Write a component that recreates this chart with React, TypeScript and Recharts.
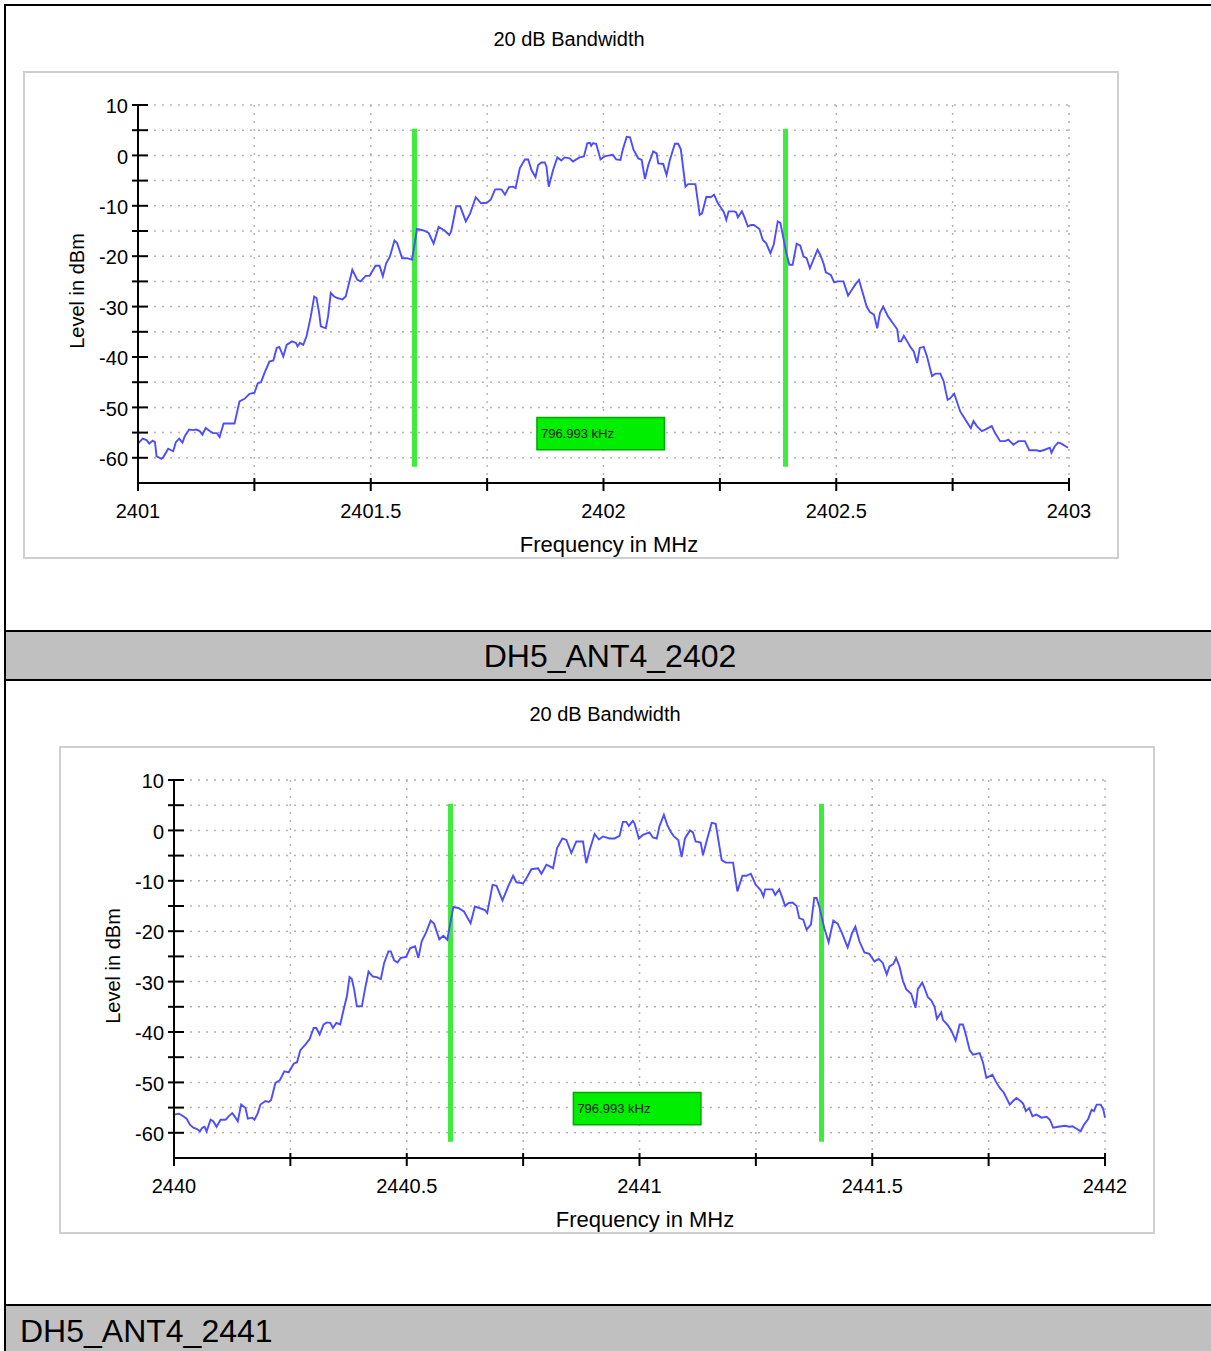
import { LineChart, Line, XAxis, YAxis, CartesianGrid, ReferenceLine, ReferenceArea } from 'recharts'

const trace2402: [number, number][] = [
  [2401.0, -57.2], [2401.01, -56.2], [2401.0185, -56.5], [2401.0242, -57.2], [2401.0314, -56.6],
  [2401.0364, -56.9], [2401.0399, -59.7], [2401.0506, -60.2], [2401.0542, -59.9], [2401.0649, -58.2],
  [2401.0756, -58.7], [2401.0813, -56.9], [2401.0884, -56.2], [2401.0955, -57.0], [2401.1005, -55.7],
  [2401.1098, -54.4], [2401.1183, -54.5], [2401.1254, -54.4], [2401.1326, -54.7], [2401.1383, -55.4],
  [2401.1454, -54.1], [2401.154, -54.7], [2401.1611, -55.1], [2401.1696, -55.1], [2401.1753, -55.9],
  [2401.1839, -53.2], [2401.1932, -53.2], [2401.2074, -53.2], [2401.2181, -48.8], [2401.2288, -48.3],
  [2401.2395, -47.3], [2401.2502, -47.1], [2401.2573, -45.2], [2401.2644, -45.0], [2401.2716, -43.2],
  [2401.2823, -40.9], [2401.2908, -40.7], [2401.2979, -38.2], [2401.3036, -38.0], [2401.3122, -39.9],
  [2401.3193, -37.6], [2401.3307, -36.9], [2401.3393, -37.2], [2401.3428, -37.9], [2401.3478, -37.2],
  [2401.355, -37.6], [2401.3621, -35.9], [2401.3713, -31.9], [2401.3785, -28.0], [2401.3835, -28.3],
  [2401.3892, -31.3], [2401.3927, -33.9], [2401.4034, -34.3], [2401.4084, -31.9], [2401.4141, -27.3],
  [2401.4212, -28.0], [2401.4284, -28.3], [2401.4391, -28.6], [2401.4462, -28.0], [2401.4604, -22.7],
  [2401.4711, -24.7], [2401.4783, -25.0], [2401.489, -23.9], [2401.4975, -23.9], [2401.5103, -21.9],
  [2401.5189, -21.9], [2401.526, -24.0], [2401.5331, -21.4], [2401.541, -20.1], [2401.551, -16.9],
  [2401.5567, -17.4], [2401.5674, -20.4], [2401.5781, -20.4], [2401.5887, -20.7], [2401.5994, -14.6],
  [2401.6137, -14.9], [2401.6244, -15.4], [2401.6351, -17.5], [2401.6458, -14.2], [2401.6586, -14.9],
  [2401.6686, -15.8], [2401.6728, -15.1], [2401.6835, -10.1], [2401.6921, -10.1], [2401.7042, -13.1],
  [2401.7135, -11.5], [2401.7256, -8.3], [2401.737, -9.5], [2401.7491, -9.4], [2401.7577, -8.8],
  [2401.7669, -6.8], [2401.7741, -6.7], [2401.7812, -6.8], [2401.7883, -7.8], [2401.7969, -6.3],
  [2401.8061, -6.2], [2401.8111, -6.5], [2401.8204, -2.5], [2401.8311, -0.8], [2401.8382, -0.8],
  [2401.8453, -2.9], [2401.8539, -4.3], [2401.8596, -1.9], [2401.8667, -1.4], [2401.8738, -1.4],
  [2401.8774, -2.2], [2401.8824, -6.2], [2401.8917, -2.9], [2401.9009, -0.4], [2401.9095, -1.0],
  [2401.9166, -0.4], [2401.9273, -0.6], [2401.9344, -1.2], [2401.9415, -0.8], [2401.9487, -0.4],
  [2401.9579, -0.2], [2401.9651, 2.4], [2401.9708, 2.5], [2401.9736, 1.9], [2401.9772, 2.4],
  [2401.9843, 2.3], [2401.9936, -0.8], [2402.0021, -0.2], [2402.0128, 0.0], [2402.02, 0.1],
  [2402.0271, -0.8], [2402.0364, -0.9], [2402.0413, 1.1], [2402.0499, 3.7], [2402.057, 3.6],
  [2402.0642, 1.2], [2402.0749, -0.6], [2402.082, -0.9], [2402.0891, -4.7], [2402.0962, -1.9],
  [2402.1069, 0.8], [2402.1141, 0.4], [2402.1176, -1.6], [2402.1283, -1.7], [2402.1354, -3.9],
  [2402.1426, -0.9], [2402.1533, 2.3], [2402.1604, 2.3], [2402.1661, 1.2], [2402.1761, -6.2],
  [2402.1818, -5.7], [2402.1975, -5.7], [2402.2067, -11.8], [2402.2117, -11.5], [2402.221, -8.2],
  [2402.2303, -8.3], [2402.2374, -7.8], [2402.2459, -9.5], [2402.2516, -10.3], [2402.2588, -11.3],
  [2402.2638, -12.8], [2402.2688, -11.1], [2402.2816, -11.1], [2402.2851, -11.3], [2402.2887, -12.3],
  [2402.2973, -11.1], [2402.303, -12.3], [2402.3101, -14.1], [2402.3172, -13.8], [2402.3229, -13.8],
  [2402.335, -14.6], [2402.3422, -16.8], [2402.3493, -17.4], [2402.3586, -19.4], [2402.3657, -17.7],
  [2402.3743, -13.1], [2402.38, -13.4], [2402.3921, -19.1], [2402.3992, -21.7], [2402.4063, -21.7],
  [2402.4149, -17.5], [2402.4227, -17.9], [2402.4299, -20.1], [2402.4363, -20.4], [2402.4434, -22.4],
  [2402.4598, -18.7], [2402.4655, -19.7], [2402.4726, -21.4], [2402.4776, -23.2], [2402.4883, -23.7],
  [2402.4954, -25.2], [2402.5026, -25.0], [2402.5154, -25.0], [2402.5254, -27.8], [2402.5311, -27.0],
  [2402.5418, -25.5], [2402.5489, -24.7], [2402.556, -27.0], [2402.5653, -30.0], [2402.5724, -31.1],
  [2402.581, -31.6], [2402.5881, -34.3], [2402.5938, -31.3], [2402.6009, -30.0], [2402.6109, -31.9],
  [2402.6202, -33.1], [2402.6309, -34.5], [2402.6345, -36.9], [2402.6394, -36.9], [2402.6451, -35.8],
  [2402.6523, -36.9], [2402.6608, -38.2], [2402.6665, -38.9], [2402.6737, -41.2], [2402.6794, -38.2],
  [2402.6879, -38.0], [2402.695, -39.9], [2402.7057, -43.8], [2402.7129, -43.3], [2402.7236, -43.3],
  [2402.7307, -44.8], [2402.7392, -48.5], [2402.7435, -48.3], [2402.7535, -47.3], [2402.7663, -50.8],
  [2402.7792, -52.7], [2402.7891, -54.1], [2402.7948, -52.7], [2402.802, -53.7], [2402.8127, -54.7],
  [2402.8198, -54.4], [2402.834, -53.7], [2402.8412, -55.1], [2402.8519, -56.7], [2402.8626, -56.7],
  [2402.8697, -56.4], [2402.8804, -57.4], [2402.8911, -56.7], [2402.9053, -56.7], [2402.9146, -58.5],
  [2402.9303, -58.5], [2402.9374, -58.7], [2402.9481, -58.4], [2402.9588, -58.0], [2402.9624, -59.0],
  [2402.9695, -57.7], [2402.9766, -57.0], [2402.9837, -57.2], [2402.9909, -57.6], [2402.998, -58.0],
]

const trace2441: [number, number][] = [
  [2440.0, -56.4], [2440.0107, -56.2], [2440.02, -56.7], [2440.0271, -57.2], [2440.0343, -58.4],
  [2440.0414, -59.0], [2440.0486, -59.2], [2440.0557, -59.7], [2440.0607, -59.0], [2440.0657, -58.8],
  [2440.07, -59.7], [2440.0786, -57.4], [2440.0843, -57.7], [2440.0914, -58.8], [2440.1, -57.4],
  [2440.1107, -57.4], [2440.1179, -56.7], [2440.125, -56.1], [2440.13, -56.7], [2440.1371, -57.7],
  [2440.1443, -54.4], [2440.1536, -55.1], [2440.1586, -57.2], [2440.1679, -57.0], [2440.1729, -57.4],
  [2440.18, -56.1], [2440.1857, -54.4], [2440.1964, -53.7], [2440.2036, -53.9], [2440.2086, -53.5],
  [2440.2179, -50.1], [2440.2271, -49.6], [2440.2371, -47.8], [2440.2464, -48.0], [2440.2571, -46.3],
  [2440.2643, -46.0], [2440.2714, -43.6], [2440.2821, -42.5], [2440.2914, -41.4], [2440.3, -39.2],
  [2440.3057, -39.2], [2440.3129, -40.5], [2440.3214, -38.5], [2440.3286, -38.1], [2440.3357, -38.2],
  [2440.3414, -39.2], [2440.3486, -38.2], [2440.3571, -38.5], [2440.3643, -35.6], [2440.3714, -32.9],
  [2440.3771, -29.1], [2440.3821, -29.5], [2440.3871, -31.6], [2440.3929, -34.9], [2440.4036, -34.9],
  [2440.4107, -31.3], [2440.4179, -28.0], [2440.4271, -29.0], [2440.4357, -29.1], [2440.4443, -29.5],
  [2440.4514, -26.3], [2440.4607, -24.0], [2440.4657, -24.0], [2440.4729, -25.8], [2440.48, -26.2],
  [2440.4871, -25.3], [2440.4986, -25.1], [2440.5071, -23.4], [2440.5179, -23.0], [2440.525, -25.3],
  [2440.5321, -22.0], [2440.5414, -20.3], [2440.5514, -17.9], [2440.5586, -18.5], [2440.57, -21.6],
  [2440.5786, -20.9], [2440.5871, -21.7], [2440.6, -15.2], [2440.6107, -15.4], [2440.6229, -16.1],
  [2440.6371, -18.4], [2440.6464, -15.1], [2440.6557, -15.4], [2440.6679, -15.8], [2440.6729, -16.4],
  [2440.6843, -10.8], [2440.6929, -11.0], [2440.7057, -13.9], [2440.7179, -11.1], [2440.7286, -9.0],
  [2440.7357, -10.3], [2440.75, -10.5], [2440.7571, -9.5], [2440.7679, -7.7], [2440.7821, -7.5],
  [2440.7893, -8.6], [2440.8, -6.8], [2440.8086, -7.2], [2440.8143, -7.5], [2440.8229, -3.5],
  [2440.8343, -1.6], [2440.8429, -1.9], [2440.8536, -4.5], [2440.8643, -2.2], [2440.8786, -2.2],
  [2440.8857, -6.5], [2440.8929, -3.9], [2440.9036, -0.7], [2440.9129, -1.8], [2440.9214, -1.2],
  [2440.9357, -1.6], [2440.9464, -1.6], [2440.9571, -1.1], [2440.9643, 1.7], [2440.9714, 1.7],
  [2440.9771, 0.9], [2440.9857, 1.9], [2440.9893, 1.4], [2440.9986, -1.6], [2441.0071, -0.9],
  [2441.0214, -0.4], [2441.0286, -1.4], [2441.0371, -1.6], [2441.0429, 0.8], [2441.0524, 3.1],
  [2441.0596, 1.1], [2441.0668, -0.2], [2441.0739, -1.2], [2441.0833, -1.9], [2441.0905, -5.3],
  [2441.0976, -1.6], [2441.1084, 0.0], [2441.1149, -0.4], [2441.1206, -2.2], [2441.1314, -2.4],
  [2441.1364, -4.9], [2441.1457, -1.6], [2441.1551, 1.5], [2441.1637, 1.3], [2441.1766, -5.9],
  [2441.1852, -6.4], [2441.201, -6.4], [2441.2103, -12.1], [2441.2211, -9.0], [2441.2297, -9.0],
  [2441.2391, -8.6], [2441.2498, -10.8], [2441.2606, -11.9], [2441.2663, -13.1], [2441.2699, -11.7],
  [2441.2857, -11.7], [2441.2915, -12.8], [2441.3001, -11.7], [2441.3058, -13.1], [2441.313, -15.0],
  [2441.3202, -14.4], [2441.3288, -14.3], [2441.3374, -15.0], [2441.3431, -17.4], [2441.3518, -17.7],
  [2441.359, -19.7], [2441.3683, -18.7], [2441.3754, -13.4], [2441.3805, -13.4], [2441.3862, -15.1],
  [2441.397, -19.4], [2441.4063, -22.2], [2441.4164, -17.9], [2441.4257, -18.5], [2441.435, -20.4],
  [2441.4472, -23.2], [2441.4566, -20.4], [2441.4637, -19.1], [2441.4724, -22.0], [2441.4831, -24.2],
  [2441.4939, -24.5], [2441.5047, -26.0], [2441.514, -25.5], [2441.5226, -26.3], [2441.5312, -28.6],
  [2441.537, -27.0], [2441.5456, -26.5], [2441.5513, -25.3], [2441.5585, -27.0], [2441.5657, -29.8],
  [2441.5729, -31.5], [2441.5836, -32.4], [2441.593, -35.2], [2441.598, -31.5], [2441.6073, -30.2],
  [2441.6123, -31.3], [2441.6195, -33.1], [2441.6267, -33.7], [2441.6339, -35.0], [2441.6389, -37.4],
  [2441.6482, -36.1], [2441.6518, -37.6], [2441.6626, -38.7], [2441.6698, -39.7], [2441.6791, -41.7],
  [2441.6877, -38.5], [2441.6949, -38.5], [2441.7021, -40.9], [2441.7093, -43.6], [2441.7164, -44.5],
  [2441.7308, -44.2], [2441.738, -46.1], [2441.7452, -49.1], [2441.7581, -48.5], [2441.7653, -49.8],
  [2441.7739, -51.1], [2441.7825, -52.0], [2441.7954, -54.4], [2441.8026, -53.7], [2441.8098, -53.1],
  [2441.8184, -53.7], [2441.8241, -54.2], [2441.8299, -55.7], [2441.837, -55.1], [2441.8442, -56.7],
  [2441.8528, -56.4], [2441.8636, -57.0], [2441.8744, -56.8], [2441.8816, -57.4], [2441.8887, -59.0],
  [2441.8995, -58.8], [2441.9139, -58.6], [2441.9232, -58.8], [2441.9304, -58.7], [2441.939, -59.2],
  [2441.9476, -59.7], [2441.9548, -58.4], [2441.9641, -57.2], [2441.9713, -55.4], [2441.9763, -55.7],
  [2441.9821, -54.4], [2441.9907, -54.4], [2441.9964, -55.4], [2442.0, -57.0],
]

// -20 dB edge markers (MHz) and their readout
const markers2402 = [2401.594, 2402.391]
const markers2441 = [2440.594, 2441.391]
const bandwidthLabel = '796.993 kHz'

const xTicks2402 = [2401, 2401.25, 2401.5, 2401.75, 2402, 2402.25, 2402.5, 2402.75, 2403]
const xTicks2441 = [2440, 2440.25, 2440.5, 2440.75, 2441, 2441.25, 2441.5, 2441.75, 2442]
const levelTicks = [-60, -55, -50, -45, -40, -35, -30, -25, -20, -15, -10, -5, 0, 5, 10]

const FONT = "'Liberation Sans', Arial, Helvetica, sans-serif"

function YTick(props: any) {
  const { x, y, payload } = props
  const v = payload.value
  return (
    <g>
      <line x1={x - 6} x2={x + 10} y1={y} y2={y} stroke="#000" strokeWidth={2} />
      {v % 10 === 0 && (
        <text x={x - 10} y={y + 1} dy="0.36em" textAnchor="end" fontSize={20} fill="#000" fontFamily={FONT}>
          {v}
        </text>
      )}
    </g>
  )
}

function XTick(props: any) {
  const { x, y, payload } = props
  const v = payload.value
  const major = Math.abs(v * 2 - Math.round(v * 2)) < 1e-6
  return (
    <g>
      <line x1={x} x2={x} y1={y - 5} y2={y + 8} stroke="#000" strokeWidth={2} />
      {major && (
        <text x={x} y={y + 28} dy="0.36em" textAnchor="middle" fontSize={20} fill="#000" fontFamily={FONT}>
          {v}
        </text>
      )}
    </g>
  )
}

function Txt({ x, y, size, children, anchor = 'center', rotate = false }: any) {
  return (
    <div
      style={{
        position: 'absolute',
        left: x,
        top: y,
        fontSize: size,
        fontFamily: FONT,
        whiteSpace: 'nowrap',
        lineHeight: 1,
        color: '#000',
        transform:
          (anchor === 'center' ? 'translate(-50%, -50%)' : 'translate(0, -50%)') + (rotate ? ' rotate(-90deg)' : ''),
      }}
    >
      {children}
    </div>
  )
}

function BandwidthBlock({ ox, oy, trace, xTicks, markers, boxFreq }: any) {
  const data = trace.map(([f, level]: [number, number]) => ({ f, level }))
  return (
    <>
      <Txt x={ox + 569} y={oy + 39} size={20}>20 dB Bandwidth</Txt>
      <div
        style={{
          position: 'absolute',
          left: ox + 23,
          top: oy + 71,
          width: 1096,
          height: 488,
          boxSizing: 'border-box',
          border: '2px solid #cfcfcf',
        }}
      />
      <div style={{ position: 'absolute', left: ox + 24, top: oy + 72 }}>
        <LineChart width={1094} height={487} data={data} margin={{ top: 33, right: 49, bottom: 36, left: 74 }}>
          <CartesianGrid stroke="#b4b4b4" strokeDasharray="2 6" strokeWidth={1.5} />
          <XAxis
            dataKey="f"
            type="number"
            domain={[xTicks[0], xTicks[xTicks.length - 1]]}
            ticks={xTicks}
            height={40}
            tickSize={0}
            tickMargin={0}
            tick={<XTick />}
            axisLine={{ stroke: '#000', strokeWidth: 2 }}
            interval={0}
          />
          <YAxis
            type="number"
            domain={[-65, 10]}
            ticks={levelTicks}
            width={40}
            tickSize={0}
            tickMargin={0}
            tick={<YTick />}
            axisLine={{ stroke: '#000', strokeWidth: 2 }}
            interval={0}
          />
          <ReferenceArea
            x1={boxFreq[0]}
            x2={boxFreq[1]}
            y1={-58.4}
            y2={-52.0}
            fill="#00ee00"
            fillOpacity={1}
            stroke="#00a800"
            strokeWidth={1.5}
            label={{ value: bandwidthLabel, position: 'insideLeft', offset: 4, fontSize: 13, fill: '#0a1a0a', fontFamily: FONT }}
          />
          {markers.map((m: number) => (
            <ReferenceLine
              key={m}
              segment={[{ x: m, y: 5.3 }, { x: m, y: -61.8 }]}
              stroke="#3eec3e"
              strokeWidth={5}
            />
          ))}
          <Line
            type="linear"
            dataKey="level"
            stroke="#4d4dff"
            strokeWidth={1.9}
            dot={false}
            isAnimationActive={false}
          />
        </LineChart>
      </div>
      <Txt x={ox + 609} y={oy + 545} size={22}>Frequency in MHz</Txt>
      <Txt x={ox + 77} y={oy + 291} size={20} rotate>Level in dBm</Txt>
    </>
  )
}

export default function App() {
  return (
    <div
      style={{
        position: 'absolute',
        left: 0,
        top: 0,
        width: 1211,
        height: 1351,
        overflow: 'hidden',
        background: '#fff',
        fontFamily: FONT,
      }}
    >
      <div
        style={{
          position: 'absolute',
          left: 4,
          top: 4,
          width: 1300,
          height: 1400,
          borderLeft: '2px solid #000',
          borderTop: '2px solid #000',
        }}
      />
      <BandwidthBlock ox={0} oy={0} trace={trace2402} xTicks={xTicks2402} markers={markers2402} boxFreq={[2401.857, 2402.131]} />
      <div
        style={{
          position: 'absolute',
          left: 6,
          top: 630,
          width: 1300,
          height: 51,
          boxSizing: 'border-box',
          background: '#c0c0c0',
          borderTop: '2px solid #000',
          borderBottom: '2px solid #000',
        }}
      />
      <Txt x={610} y={656} size={32}>DH5_ANT4_2402</Txt>
      <BandwidthBlock ox={36} oy={675} trace={trace2441} xTicks={xTicks2441} markers={markers2441} boxFreq={[2440.858, 2441.132]} />
      <div
        style={{
          position: 'absolute',
          left: 6,
          top: 1304,
          width: 1300,
          height: 60,
          boxSizing: 'border-box',
          background: '#c0c0c0',
          borderTop: '2px solid #000',
        }}
      />
      <Txt x={20} y={1331} size={32} anchor="left">DH5_ANT4_2441</Txt>
    </div>
  )
}
